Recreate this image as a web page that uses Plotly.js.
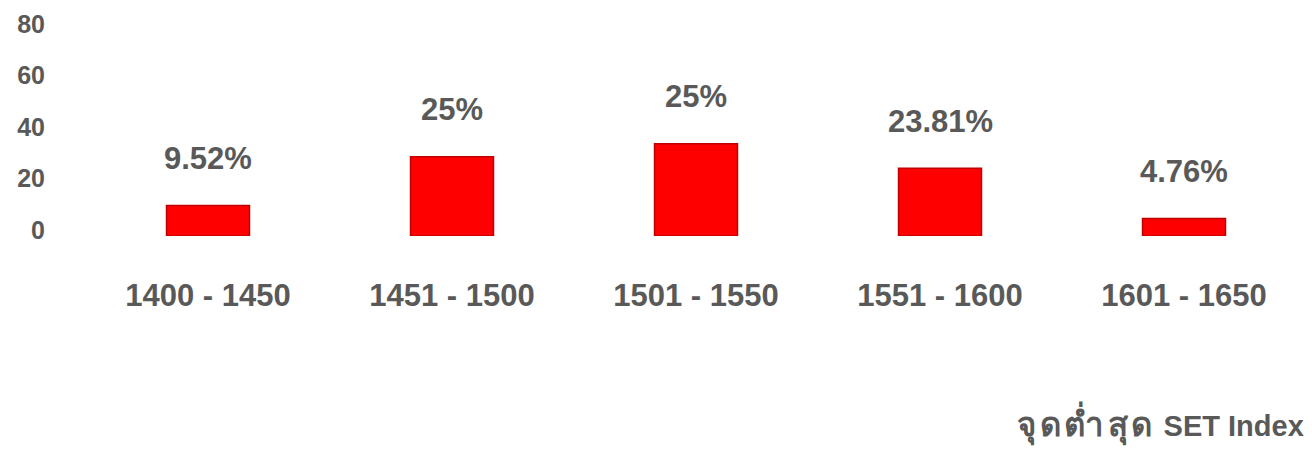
<!DOCTYPE html>
<html>
<head>
<meta charset="utf-8">
<script src="https://cdn.plot.ly/plotly-3.0.1.min.js"></script>
<style>html,body{margin:0;padding:0;background:#fff;}#chart{width:1312px;height:451px;}</style>
</head>
<body>
<div id="chart"></div>
<script>
const categories = ["1400 - 1450", "1451 - 1500", "1501 - 1550", "1551 - 1600", "1601 - 1650"];
const values = [11.8, 30.8, 35.8, 26.3, 6.8];
const labels = ["9.52%", "25%", "25%", "23.81%", "4.76%"];
const yTicks = [0, 20, 40, 60, 80];
const titleThai = "จุดต่ำสุด";
const titleLatin = "SET Index";

const grey = "#595959";
const fontFam = "'Liberation Sans', Arial, 'Noto Sans', sans-serif";

const trace = {
  type: "bar",
  x: categories,
  y: values,
  width: 0.34,
  marker: { color: "#ff0000", line: { color: "#c00000", width: 1.5 } },
  hoverinfo: "none"
};

const annotations = categories.map((c, i) => ({
  x: c, y: values[i], xref: "x", yref: "y",
  text: labels[i], showarrow: false,
  yanchor: "middle", yshift: 47,
  font: { family: fontFam, size: 31, color: grey, weight: "bold" }
}));
annotations.push({
  xref: "paper", yref: "paper", x: 1.0, y: 0, xanchor: "right", yanchor: "middle",
  yshift: -187,
  text: "<b><span style=\"font-size:33px;letter-spacing:3.5px\">" + titleThai + "</span> " + titleLatin + "</b>",
  showarrow: false,
  font: { family: fontFam, size: 29, color: grey }
});

const layout = {
  width: 1312, height: 451,
  margin: { l: 86, r: 6, t: 30, b: 215 },
  paper_bgcolor: "#fff", plot_bgcolor: "#fff",
  showlegend: false,
  xaxis: {
    type: "category",
    showgrid: false, zeroline: false, showline: false, ticks: "",
    ticklabelstandoff: 38,
    tickfont: { family: fontFam, size: 31, color: grey, weight: "bold" }
  },
  yaxis: {
    range: [0, 80],
    tickvals: yTicks,
    showgrid: false, zeroline: false, showline: false, ticks: "",
    ticklabelstandoff: 40,
    ticklabelshift: -6,
    tickfont: { family: fontFam, size: 25, color: grey, weight: "bold" }
  },
  annotations: annotations
};

Plotly.newPlot("chart", [trace], layout, { displayModeBar: false, staticPlot: true });
</script>
</body>
</html>
